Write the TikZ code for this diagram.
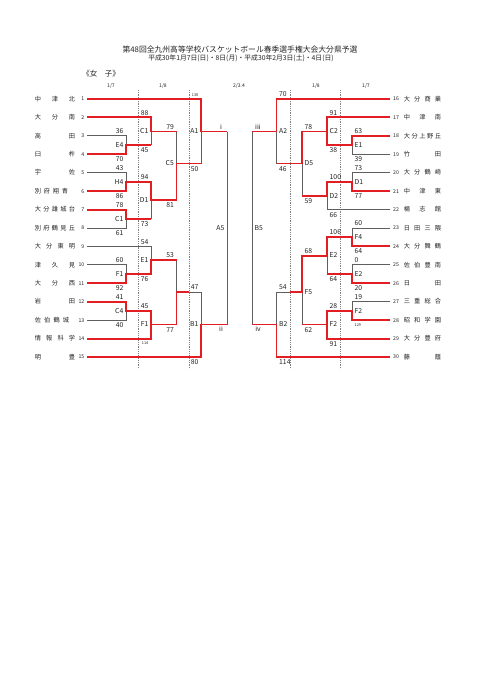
\documentclass[tikz,border=0pt]{standalone}
\usepackage{fontspec}
\setmainfont{Noto Sans CJK JP}
\definecolor{redl}{RGB}{226,30,34}
\definecolor{grayl}{RGB}{95,95,95}
\definecolor{txt}{RGB}{35,35,35}
\newcommand\scA[4]{\node[sc,anchor=base east] (#1) at (#2-2.5,#3-2.3) {#4};}
\newcommand\scB[4]{\node[sc,anchor=base east] (#1) at (#2-2.5,#3+7.5) {#4};}
\newcommand\scC[4]{\node[sc,anchor=base west] (#1) at (#2+2.5,#3-2.3) {#4};}
\newcommand\scD[4]{\node[sc,anchor=base west] (#1) at (#2+2.5,#3+7.5) {#4};}
\newcommand\lbA[4]{\node[sc,anchor=base east] (#1) at (#2-2.5,#3+2.3) {#4};}
\newcommand\lbB[4]{\node[sc,anchor=base west] (#1) at (#2+2.5,#3+2.3) {#4};}
\newcommand\tname[5]{\foreach \ch [count=\kk from 0] in {#5} {\node[nm] (#1-\kk) at (#2+\kk*#4,#3+2.2) {\ch};}}
\newcommand\numL[3]{\node[num,anchor=base east] (#1) at (84.5,#2+1.8) {#3};}
\newcommand\numR[3]{\node[num,anchor=base west] (#1) at (393,#2+1.8) {#3};}
\begin{document}
\begin{tikzpicture}[x=1pt,y=-1pt,
  R/.style={draw=redl,line width=1.9pt},
  G/.style={draw=grayl,line width=0.85pt},
  D/.style={draw=gray,line width=0.6pt,dash pattern=on 0.9pt off 0.9pt},
  sc/.style={inner sep=0pt,font=\fontsize{6.8}{6.8}\selectfont,text=txt},
  ssc/.style={inner sep=0pt,font=\fontsize{3.8}{4}\selectfont,text=txt},
  nm/.style={inner sep=0pt,anchor=base,font=\fontsize{6.2}{6.2}\selectfont,text=txt},
  num/.style={inner sep=0pt,font=\fontsize{5.2}{5.2}\selectfont,text=txt},
  hd/.style={inner sep=0pt,font=\fontsize{5}{5}\selectfont,text=txt}]
\fill[white] (0,0) rectangle (481,680);
\useasboundingbox (0,0) rectangle (481,680);

% titles
\node[inner sep=0pt,font=\fontsize{7.8}{8}\selectfont,text=txt] (title) at (240,50) {第48回全九州高等学校バスケットボール春季選手権大会大分県予選};
\node[inner sep=0pt,font=\fontsize{6.8}{7}\selectfont,text=txt] (sub) at (241,58) {平成30年1月7日(日)・8日(月)・平成30年2月3日(土)・4日(日)};
\node[inner sep=0pt,font=\fontsize{7.5}{8}\selectfont,text=txt] (sex) at (101,74) {《女　子》};
\node[hd] (h1) at (111,86) {1/7};
\node[hd] (h2) at (163,86) {1/8};
\node[hd] (h3) at (239,86) {2/3.4};
\node[hd] (h4) at (316,86) {1/8};
\node[hd] (h5) at (366,86) {1/7};

% dotted column lines
\draw[D] (138,90) -- (138,369);
\draw[D] (189,90) -- (189,369);
\draw[D] (290,90) -- (290,369);
\draw[D] (340,90) -- (340,369);

% ---------- left gray
\draw[G] (87,135.9)--(126,135.9)--(126,145.1);
\draw[G] (87,172.7)--(126,172.7)--(126,182);
\draw[G] (87,228)--(126,228)--(126,218.8);
\draw[G] (87,246.4)--(151,246.4)--(151,260);
\draw[G] (87,264.9)--(126,264.9)--(126,274.1);
\draw[G] (87,320.2)--(126,320.2)--(126,311);
\draw[G] (151,131.5)--(151,145.1);
\draw[G] (151,200.4)--(151,218.8);
\draw[G] (176.5,131.5)--(176.5,163.5);
\draw[G] (176.5,260)--(176.5,292);
\draw[G] (189,292)--(201,292)--(201,324.5);
\draw[G] (201,131.5)--(201,163.5);
\draw[G] (227,131.5)--(227,324.5);
% ---------- left red
\draw[R] (87,99)--(201,99)--(201,131.5)--(227,131.5);
\draw[R] (87,117.4)--(151,117.4)--(151,131.5)--(176.5,131.5);
\draw[R] (87,154.3)--(126,154.3)--(126,145.1)--(151,145.1);
\draw[R] (87,191.2)--(126,191.2)--(126,182)--(151,182)--(151,200.4)--(176.5,200.4)--(176.5,163.5)--(201,163.5);
\draw[R] (87,209.6)--(126,209.6)--(126,218.8)--(151,218.8);
\draw[R] (87,283.3)--(126,283.3)--(126,274.1)--(151,274.1)--(151,260)--(176.5,260);
\draw[R] (87,301.7)--(126,301.7)--(126,311)--(151,311)--(151,324.5);
\draw[R] (87,338.6)--(151,338.6)--(151,324.5)--(176.5,324.5)--(176.5,292)--(189,292);
\draw[R] (87,357)--(201,357)--(201,324.5)--(227,324.5);

% ---------- right gray
\draw[G] (390,154.3)--(352,154.3)--(352,145.1);
\draw[G] (390,172.7)--(352,172.7)--(352,182);
\draw[G] (390,209.6)--(327,209.6)--(327,195.8);
\draw[G] (390,228)--(352,228)--(352,237.2);
\draw[G] (390,264.9)--(352,264.9)--(352,274.1);
\draw[G] (390,301.7)--(352,301.7)--(352,311);
\draw[G] (327,255.6)--(327,274.1);
\draw[G] (302,163.5)--(302,195.8);
\draw[G] (302,292)--(302,324.5);
\draw[G] (276.5,131.5)--(276.5,163.5);
\draw[G] (290,292)--(276.5,292)--(276.5,324.5);
\draw[G] (252,131.5)--(252,324.5);
% ---------- right red
\draw[R] (390,99)--(276.5,99)--(276.5,131.5)--(252,131.5);
\draw[R] (390,117.4)--(327,117.4)--(327,131.5)--(302,131.5)--(302,163.5)--(276.5,163.5);
\draw[R] (390,135.9)--(352,135.9)--(352,145.1)--(327,145.1)--(327,131.5);
\draw[R] (390,191.2)--(352,191.2)--(352,182)--(327,182)--(327,195.8)--(302,195.8);
\draw[R] (390,246.4)--(352,246.4)--(352,237.2)--(327,237.2)--(327,255.6)--(302,255.6)--(302,292)--(290,292);
\draw[R] (390,283.3)--(352,283.3)--(352,274.1)--(327,274.1);
\draw[R] (390,320.2)--(352,320.2)--(352,311)--(327,311)--(327,324.5);
\draw[R] (390,338.6)--(327,338.6)--(327,324.5)--(302,324.5);
\draw[R] (390,357)--(276.5,357)--(276.5,324.5)--(252,324.5);

% ---------- left teams
\tname{nL1}{38}{99}{17}{中,津,北}
\tname{nL2}{38}{117.4}{17}{大,分,南}
\tname{nL3}{38}{135.9}{34}{高,田}
\tname{nL4}{38}{154.3}{34}{臼,杵}
\tname{nL5}{38}{172.7}{34}{宇,佐}
\tname{nL6}{38}{191.2}{9}{別,府,翔,青}
\tname{nL7}{38}{209.6}{8.5}{大,分,雄,城,台}
\tname{nL8}{38}{228}{8.5}{別,府,鶴,見,丘}
\tname{nL9}{38}{246.4}{11.33}{大,分,東,明}
\tname{nL10}{38}{264.9}{17}{津,久,見}
\tname{nL11}{38}{283.3}{17}{大,分,西}
\tname{nL12}{38}{301.7}{34}{岩,田}
\tname{nL13}{38}{320.2}{9.3}{佐,伯,鶴,城}
\tname{nL14}{38}{338.6}{11.33}{情,報,科,学}
\tname{nL15}{38}{357}{34}{明,豊}
\numL{tL1}{99}{1}
\numL{tL2}{117.4}{2}
\numL{tL3}{135.9}{3}
\numL{tL4}{154.3}{4}
\numL{tL5}{172.7}{5}
\numL{tL6}{191.2}{6}
\numL{tL7}{209.6}{7}
\numL{tL8}{228}{8}
\numL{tL9}{246.4}{9}
\numL{tL10}{264.9}{10}
\numL{tL11}{283.3}{11}
\numL{tL12}{301.7}{12}
\numL{tL13}{320.2}{13}
\numL{tL14}{338.6}{14}
\numL{tL15}{357}{15}

% ---------- right teams
\tname{nR16}{407}{99}{10.33}{大,分,商,業}
\tname{nR17}{407}{117.4}{15.5}{中,津,南}
\tname{nR18}{407}{135.9}{7.75}{大,分,上,野,丘}
\tname{nR19}{407}{154.3}{31}{竹,田}
\tname{nR20}{407}{172.7}{10.33}{大,分,鶴,崎}
\tname{nR21}{407}{191.2}{15.5}{中,津,東}
\tname{nR22}{407}{209.6}{15.5}{楊,志,館}
\tname{nR23}{407}{228}{10.33}{日,田,三,隈}
\tname{nR24}{407}{246.4}{10.33}{大,分,舞,鶴}
\tname{nR25}{407}{264.9}{10.33}{佐,伯,豊,南}
\tname{nR26}{407}{283.3}{31}{日,田}
\tname{nR27}{407}{301.7}{10.33}{三,重,総,合}
\tname{nR28}{407}{320.2}{10.33}{昭,和,学,園}
\tname{nR29}{407}{338.6}{10.33}{大,分,豊,府}
\tname{nR30}{407}{357}{31}{藤,蔭}
\numR{tR16}{99}{16}
\numR{tR17}{117.4}{17}
\numR{tR18}{135.9}{18}
\numR{tR19}{154.3}{19}
\numR{tR20}{172.7}{20}
\numR{tR21}{191.2}{21}
\numR{tR22}{209.6}{22}
\numR{tR23}{228}{23}
\numR{tR24}{246.4}{24}
\numR{tR25}{264.9}{25}
\numR{tR26}{283.3}{26}
\numR{tR27}{301.7}{27}
\numR{tR28}{320.2}{28}
\numR{tR29}{338.6}{29}
\numR{tR30}{357}{30}

% ---------- left scores and labels
\scA{s36}{126}{135.9}{36}
\scB{s70}{126}{154.3}{70}
\lbA{lE4}{126}{145.1}{E4}
\scA{s43}{126}{172.7}{43}
\scB{s86}{126}{191.2}{86}
\lbA{lH4}{126}{182}{H4}
\scA{s78}{126}{209.6}{78}
\scB{s61}{126}{228}{61}
\lbA{lC1a}{126}{218.8}{C1}
\scA{s60}{126}{264.9}{60}
\scB{s92}{126}{283.3}{92}
\lbA{lF1a}{126}{274.1}{F1}
\scA{s41}{126}{301.7}{41}
\scB{s40}{126}{320.2}{40}
\lbA{lC4}{126}{311}{C4}
\scA{s88}{151}{117.4}{88}
\scB{s45a}{151}{145.1}{45}
\lbA{lC1b}{151}{131.5}{C1}
\scA{s94}{151}{182}{94}
\scB{s73a}{151}{218.8}{73}
\lbA{lD1}{151}{200.4}{D1}
\scA{s54a}{151}{246.4}{54}
\scB{s76}{151}{274.1}{76}
\lbA{lE1}{151}{260}{E1}
\scA{s45b}{151}{311}{45}
\node[ssc,anchor=base east] (s114a) at (148.5,344.5) {114};
\lbA{lF1b}{151}{324.5}{F1}
\scA{s79}{176.5}{131.5}{79}
\scB{s81}{176.5}{200.4}{81}
\lbA{lC5}{176.5}{163.5}{C5}
\scA{s53}{176.5}{260}{53}
\scB{s77a}{176.5}{324.5}{77}
\node[ssc,anchor=base east] (s138) at (198.5,96.5) {138};
\scB{s50}{201}{163.5}{50}
\lbA{lA1}{201}{131.5}{A1}
\scA{s47}{201}{292}{47}
\scB{s80}{201}{357}{80}
\lbA{lB1}{201}{324.5}{B1}
\lbA{lA5}{227}{228}{A5}
\node[sc,anchor=base] (ri) at (221,129.2) {i};
\node[sc,anchor=base] (rii) at (221,331) {ii};

% ---------- right scores and labels
\scC{s63}{352}{135.9}{63}
\scD{s39}{352}{154.3}{39}
\lbB{rE1}{352}{145.1}{E1}
\scC{s73b}{352}{172.7}{73}
\scD{s77b}{352}{191.2}{77}
\lbB{rD1}{352}{182}{D1}
\scC{s60b}{352}{228}{60}
\scD{s64a}{352}{246.4}{64}
\lbB{rF4}{352}{237.2}{F4}
\scC{s0}{352}{264.9}{0}
\scD{s20}{352}{283.3}{20}
\lbB{rE2a}{352}{274.1}{E2}
\scC{s19}{352}{301.7}{19}
\node[ssc,anchor=base west] (s129) at (354.5,326) {129};
\lbB{rF2a}{352}{311}{F2}
\scC{s91a}{327}{117.4}{91}
\scD{s38}{327}{145.1}{38}
\lbB{rC2}{327}{131.5}{C2}
\scC{s100}{327}{182}{100}
\scD{s66}{327}{209.6}{66}
\lbB{rD2}{327}{195.8}{D2}
\scC{s106}{327}{237.2}{106}
\scD{s64b}{327}{274.1}{64}
\lbB{rE2b}{327}{255.6}{E2}
\scC{s28}{327}{311}{28}
\scD{s91b}{327}{338.6}{91}
\lbB{rF2b}{327}{324.5}{F2}
\scC{s78b}{302}{131.5}{78}
\scD{s59}{302}{195.8}{59}
\lbB{rD5}{302}{163.5}{D5}
\scC{s68}{302}{255.6}{68}
\scD{s62}{302}{324.5}{62}
\lbB{rF5}{302}{292}{F5}
\scC{s70b}{276.5}{99}{70}
\scD{s46}{276.5}{163.5}{46}
\lbB{rA2}{276.5}{131.5}{A2}
\scC{s54b}{276.5}{292}{54}
\scD{s114b}{276.5}{357}{114}
\lbB{rB2}{276.5}{324.5}{B2}
\lbB{rB5}{252}{228}{B5}
\node[sc,anchor=base] (riii) at (258,129.2) {iii};
\node[sc,anchor=base] (riv) at (258,331) {iv};
\end{tikzpicture}
\end{document}
